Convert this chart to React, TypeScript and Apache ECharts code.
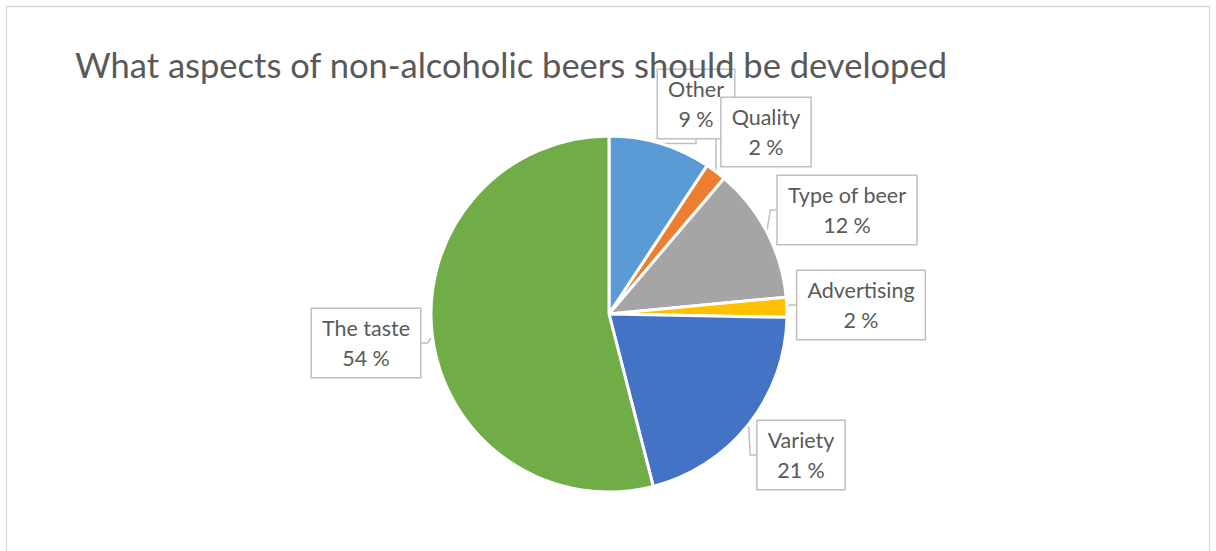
import React, { useEffect, useRef } from "react";
import * as echarts from "echarts";

const TITLE = "What aspects of non-alcoholic beers should be developed";
const CATEGORIES = ["Other", "Quality", "Type of beer", "Advertising", "Variety", "The taste"];
const VALUES = [9.3, 1.9, 12.3, 1.8, 20.7, 54.0];
const COLORS = ["#5B9BD5", "#ED7D31", "#A5A5A5", "#FFC000", "#4472C4", "#70AD47"];
// label box centres (layout only), same order as CATEGORIES
const LABEL_POS: [number, number][] = [
  [696, 104],
  [766, 132],
  [847, 210],
  [861, 305],
  [801, 455],
  [366, 343],
];

export default function App() {
  const ref = useRef<HTMLDivElement>(null);
  useEffect(() => {
    if (!ref.current) return;
    const chart = echarts.init(ref.current, undefined, { renderer: "svg" });
    chart.setOption({
      animation: false,
      backgroundColor: "#ffffff",
      title: {
        text: TITLE,
        left: 70,
        top: 42,
        textStyle: { fontFamily: "Lato", fontSize: 34.5, fontWeight: "normal", color: "#595959" },
      },
      graphic: [
        {
          type: "rect",
          shape: { x: 6.5, y: 6.5, width: 1203, height: 600 },
          style: { fill: "none", stroke: "#D9D9D9", lineWidth: 1.3 },
          silent: true,
          z: -1,
        },
      ],
      series: [
        {
          type: "pie",
          center: [609, 314],
          radius: 178,
          startAngle: 90,
          clockwise: true,
          avoidLabelOverlap: false,
          percentPrecision: 0,
          itemStyle: { borderColor: "#ffffff", borderWidth: 3 },
          data: CATEGORIES.map((name, i) => ({
            name,
            value: VALUES[i],
            itemStyle: { color: COLORS[i] },
          })),
          label: {
            show: true,
            position: "outside",
            formatter: "{b}\n{d} %",
            fontFamily: "Lato",
            fontSize: 21.5,
            lineHeight: 30,
            color: "#595959",
            backgroundColor: "#ffffff",
            borderColor: "#BFBFBF",
            borderWidth: 1.5,
            padding: [4, 10, 4, 10],
            align: "center",
          },
          labelLine: {
            show: true,
            length: 6,
            length2: 6,
            lineStyle: { color: "#BFBFBF", width: 1.5 },
          },
          labelLayout: (params: any) => {
            const p = LABEL_POS[params.dataIndex];
            return { x: p[0], y: p[1], align: "center", verticalAlign: "middle" };
          },
        },
      ],
    });
    return () => chart.dispose();
  }, []);
  return (
    <div
      ref={ref}
      style={{ position: "fixed", left: 0, top: 0, width: 1216, height: 551 }}
    />
  );
}
